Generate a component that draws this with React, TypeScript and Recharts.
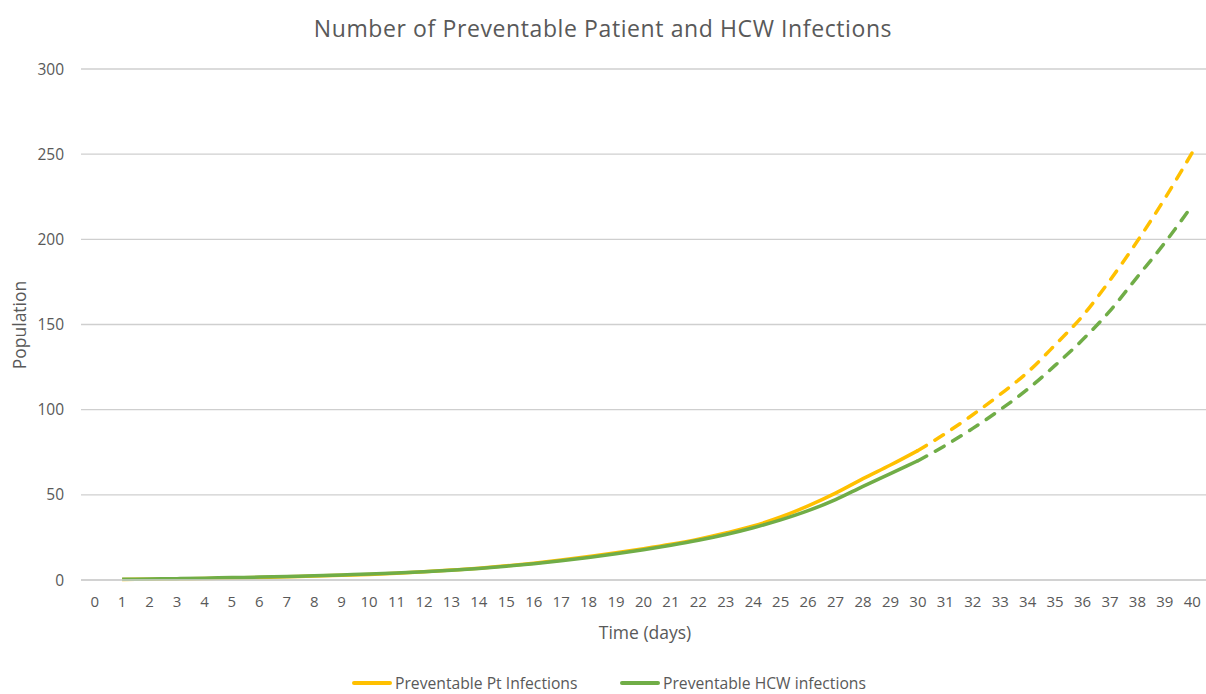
import { CartesianGrid, Legend, Line, LineChart, XAxis, YAxis } from "recharts";

// days on the category axis
const days = [
  0, 1, 2, 3, 4, 5, 6, 7, 8, 9, 10, 11, 12, 13, 14, 15, 16, 17, 18, 19, 20,
  21, 22, 23, 24, 25, 26, 27, 28, 29, 30, 31, 32, 33, 34, 35, 36, 37, 38, 39, 40
];

// Preventable Pt Infections, day 0 has no value
const ptInfections = [
  null, 0.3, 0.5, 0.7, 0.9, 1.2, 1.5, 1.9, 2.3, 2.8, 3.3, 4.0, 4.8, 5.8, 6.9, 8.3,
  9.9, 11.7, 13.8, 16.0, 18.4, 21.0, 24.0, 27.6, 31.7, 37.0, 43.5, 51.0, 59.5,
  67.5, 76, 86, 97, 109, 122, 138, 155, 176, 199, 224, 251
];

// Preventable HCW infections
const hcwInfections = [
  null, 0.4, 0.6, 0.8, 1.1, 1.4, 1.7, 2.1, 2.5, 3.0, 3.5, 4.1, 4.8, 5.7, 6.8, 8.1,
  9.6, 11.3, 13.2, 15.4, 17.8, 20.4, 23.3, 26.7, 30.7, 35.3, 40.7, 47.2, 55.0,
  62.5, 70, 79, 89, 100, 112, 126, 141, 158, 178, 198, 220
];

const yTicks = [0, 50, 100, 150, 200, 250, 300];

// last observed day: solid up to here, dashed projection after
const lastObserved = 30;

const data = days.map((day, i) => ({
  day,
  ptSolid: i <= lastObserved ? ptInfections[i] : null,
  ptDash: i >= lastObserved ? ptInfections[i] : null,
  hcwSolid: i <= lastObserved ? hcwInfections[i] : null,
  hcwDash: i >= lastObserved ? hcwInfections[i] : null
}));

const FONT = "'Open Sans', 'Liberation Sans', sans-serif";
const TEXT = "#595959";
const YELLOW = "#FFC000";
const GREEN = "#70AD47";

function ChartLegend() {
  const items = [
    { label: "Preventable Pt Infections", color: YELLOW, left: 352 },
    { label: "Preventable HCW infections", color: GREEN, left: 620 }
  ];
  return (
    <div style={{ position: "relative", height: 20 }}>
      {items.map((it) => (
        <div
          key={it.label}
          style={{ position: "absolute", left: it.left, top: 0, display: "flex", alignItems: "center" }}
        >
          <span style={{ width: 40, height: 4, borderRadius: 2, background: it.color, display: "inline-block" }} />
          <span style={{ marginLeft: 3, fontSize: 15.7, color: TEXT, fontFamily: FONT, whiteSpace: "nowrap" }}>
            {it.label}
          </span>
        </div>
      ))}
    </div>
  );
}

export default function App() {
  return (
    <div style={{ position: "absolute", left: 0, top: 0, width: 1206, height: 694, background: "#fff", overflow: "hidden" }}>
      <div
        style={{
          position: "absolute",
          top: 12,
          left: 0,
          width: 1206,
          textAlign: "center",
          fontFamily: FONT,
          fontSize: 23,
          letterSpacing: 0.6,
          color: TEXT
        }}
      >
        Number of Preventable Patient and HCW Infections
      </div>
      <div
        style={{
          position: "absolute",
          left: 19,
          top: 325,
          transform: "translate(-50%, -50%) rotate(-90deg)",
          fontFamily: FONT,
          fontSize: 17.5,
          color: TEXT,
          whiteSpace: "nowrap"
        }}
      >
        Population
      </div>
      <div
        style={{
          position: "absolute",
          left: 645,
          top: 632,
          transform: "translate(-50%, -50%)",
          fontFamily: FONT,
          fontSize: 17.5,
          color: TEXT,
          whiteSpace: "nowrap"
        }}
      >
        Time (days)
      </div>
      <LineChart width={1206} height={694} data={data} margin={{ top: 69, right: 0, bottom: 64, left: 0 }}>
        <CartesianGrid vertical={false} stroke="#cfcfcf" strokeWidth={1.3} />
        <XAxis
          dataKey="day"
          padding={{ left: 13.7, right: 13.7 }}
          interval={0}
          tickLine={false}
          axisLine={{ stroke: "#cfcfcf", strokeWidth: 1.3 }}
          tick={{ fill: TEXT, fontSize: 15, fontFamily: FONT }}
          tickMargin={10}
          height={30}
        />
        <YAxis
          domain={[0, 300]}
          ticks={yTicks}
          width={81}
          tickLine={false}
          axisLine={false}
          tick={{ fill: TEXT, fontSize: 15.5, fontFamily: FONT }}
          tickMargin={11}
        />
        <Line dataKey="ptSolid" type="monotone" stroke={YELLOW} strokeWidth={3.5} dot={false} isAnimationActive={false} legendType="none" />
        <Line dataKey="hcwSolid" type="monotone" stroke={GREEN} strokeWidth={3.5} dot={false} isAnimationActive={false} legendType="none" />
        <Line
          dataKey="ptDash"
          type="monotone"
          stroke={YELLOW}
          strokeWidth={3.5}
          strokeDasharray="10 10"
          strokeLinecap="round"
          dot={false}
          isAnimationActive={false}
          legendType="none"
        />
        <Line
          dataKey="hcwDash"
          type="monotone"
          stroke={GREEN}
          strokeWidth={3.5}
          strokeDasharray="10 10"
          strokeLinecap="round"
          dot={false}
          isAnimationActive={false}
          legendType="none"
        />
        <Legend
          content={() => <ChartLegend />}
          wrapperStyle={{ position: "absolute", left: 0, top: 672, width: 1206 }}
        />
      </LineChart>
    </div>
  );
}
